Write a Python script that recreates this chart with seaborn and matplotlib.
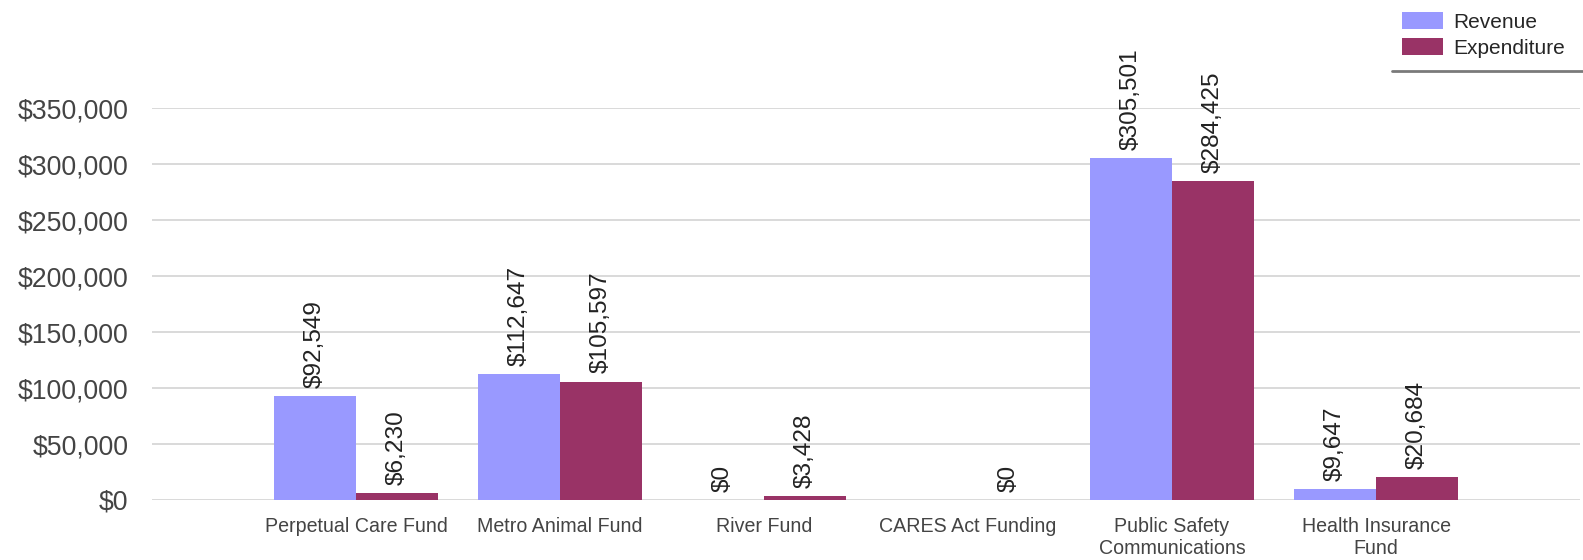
import matplotlib
matplotlib.use("Agg")
import matplotlib.pyplot as plt
from matplotlib.lines import Line2D
from matplotlib.ticker import FuncFormatter, MultipleLocator
import numpy as np
import pandas as pd
import seaborn as sns

categories = ["Perpetual Care Fund", "Metro Animal Fund", "River Fund",
              "CARES Act Funding", "Public Safety\nCommunications", "Health Insurance\nFund"]
revenue = [92549, 112647, 0, np.nan, 305501, 9647]
expenditure = [6230, 105597, 3428, 0, 284425, 20684]
series = ["Revenue", "Expenditure"]
colors = {"Revenue": "#9999FF", "Expenditure": "#993366"}

df = pd.DataFrame({
    "category": categories * 2,
    "series": ["Revenue"] * len(categories) + ["Expenditure"] * len(categories),
    "value": revenue + expenditure,
})

sns.set_style("white")
plt.rcParams["font.family"] = ["Liberation Sans", "DejaVu Sans"]

fig = plt.figure(figsize=(15.83, 5.6), dpi=100)
ax = fig.add_axes([152 / 1583, 1 - 500 / 560, 1428 / 1583, 392 / 560])

sns.barplot(data=df.dropna(), x="category", y="value", hue="series",
            order=categories, hue_order=series, palette=colors,
            width=0.8, gap=0, saturation=1, errorbar=None, ax=ax, zorder=3,
            linewidth=0, edgecolor="none")

for cont in ax.containers:
    ax.bar_label(cont, fmt=lambda v: f"${v:,.0f}", rotation=90, padding=6,
                 fontsize=17.6, color="#222222")

ax.set_xlim(-1, len(categories))
ax.set_ylim(0, 350000)
ax.yaxis.set_major_locator(MultipleLocator(50000))
ax.yaxis.set_major_formatter(FuncFormatter(lambda v, p: f"${v:,.0f}"))
ax.grid(axis="y", color="#d9d9d9", linewidth=1.4, zorder=0)
ax.grid(axis="x", visible=False)
for s in ax.spines.values():
    s.set_visible(False)
ax.tick_params(axis="y", length=0, pad=17, labelsize=19.2, labelcolor="#444444")
ax.tick_params(axis="x", length=0, pad=12, labelsize=14.1, labelcolor="#444444")
for t in ax.get_xticklabels():
    t.set_linespacing(1.25)
ax.set_xlabel("")
ax.set_ylabel("")

leg = ax.get_legend()
if leg is not None:
    leg.remove()
handles, labels = ax.get_legend_handles_labels()
fig.legend(handles, labels, loc="upper left",
           bbox_to_anchor=(1402 / 1583, 1 - 12 / 560), bbox_transform=fig.transFigure,
           frameon=False, fontsize=15, handlelength=1.97, handleheight=0.87,
           handletextpad=0.5, labelspacing=0.3, borderpad=0, borderaxespad=0)
fig.add_artist(Line2D([1392 / 1583, 1.0], [1 - 71 / 560, 1 - 71 / 560],
                      transform=fig.transFigure, color="#7a7a7a", linewidth=2))

fig.savefig("out.png", dpi=100)
